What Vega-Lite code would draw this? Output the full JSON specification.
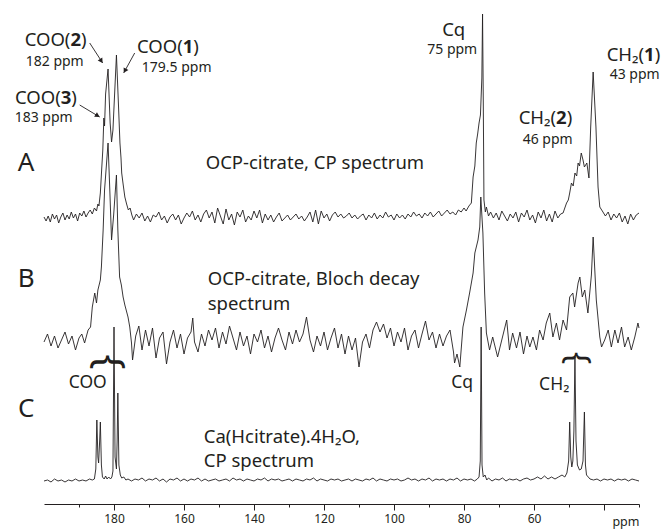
{
"$schema": "https://vega.github.io/schema/vega-lite/v6.json",
"width": 595, "height": 504, "autosize": "none",
"padding": {"left": 44, "top": 0, "right": 25, "bottom": 25},
"background": "#ffffff",
"config": {
  "view": {"stroke": null},
  "text": {"font": "Noto Sans", "color": "#231f20", "baseline": "middle"},
  "axis": {"domainColor": "#231f20", "tickColor": "#231f20", "labelColor": "#231f20", "titleColor": "#231f20", "labelFont": "Noto Sans", "titleFont": "Noto Sans"}
},
"datasets": {
  "A": [
    {"ppm":200,"i":0.5},{"ppm":199.4,"i":-1.5},{"ppm":198.8,"i":1},{"ppm":198.2,"i":-2},{"ppm":197.6,"i":2},{"ppm":197,"i":-0.5},{"ppm":196.4,"i":1.5},{"ppm":195.8,"i":-2.5},{"ppm":195.2,"i":0.5},{"ppm":194.6,"i":2.5},{"ppm":194,"i":-1},{"ppm":193.4,"i":1.5},{"ppm":192.8,"i":-0.5},{"ppm":192.2,"i":3},{"ppm":191.6,"i":0},{"ppm":191,"i":2},{"ppm":190.4,"i":-1.5},{"ppm":189.8,"i":2.5},{"ppm":189.2,"i":1},{"ppm":188.6,"i":3.5},{"ppm":188,"i":0.5},{"ppm":187.4,"i":2.5},{"ppm":186.8,"i":4},{"ppm":186.2,"i":2},{"ppm":185.6,"i":5},{"ppm":185,"i":3.5},
    {"ppm":184.6,"i":7},{"ppm":184.3,"i":6},{"ppm":183.9,"i":12.5},{"ppm":183.5,"i":25},{"ppm":183.2,"i":34},{"ppm":182.9,"i":50},{"ppm":182.7,"i":46},{"ppm":182.4,"i":62},{"ppm":181.7,"i":74.5},{"ppm":181.1,"i":47.5},{"ppm":180.7,"i":38},{"ppm":180.3,"i":44},{"ppm":180,"i":55.5},{"ppm":179.3,"i":81.5},{"ppm":178.7,"i":55.5},{"ppm":178.3,"i":37.5},{"ppm":178,"i":30},{"ppm":177.8,"i":22.5},{"ppm":177.4,"i":17},{"ppm":176.9,"i":10.5},{"ppm":176.4,"i":7},{"ppm":175.9,"i":4},{"ppm":175.4,"i":5},{"ppm":174.9,"i":1.5},
    {"ppm":174.4,"i":-1},{"ppm":173.6,"i":2},{"ppm":172.8,"i":0},{"ppm":172,"i":2.5},{"ppm":171.2,"i":-1.5},{"ppm":170.4,"i":1},{"ppm":169.6,"i":-2},{"ppm":168.8,"i":1.5},{"ppm":168,"i":0.5},{"ppm":167.2,"i":3},{"ppm":166.4,"i":-1},{"ppm":165.6,"i":1},{"ppm":164.8,"i":-2.5},{"ppm":164,"i":0.5},{"ppm":163.2,"i":2},{"ppm":162.4,"i":-1},{"ppm":161.6,"i":1.5},{"ppm":160.8,"i":-3},{"ppm":160,"i":0},{"ppm":159.2,"i":2.5},{"ppm":158.4,"i":0.5},{"ppm":157.6,"i":3.5},{"ppm":156.8,"i":-1},{"ppm":156,"i":1.5},{"ppm":155.2,"i":-2},{"ppm":154.4,"i":2},{"ppm":153.6,"i":4},{"ppm":152.8,"i":0},{"ppm":152,"i":3},{"ppm":151.2,"i":-2.5},{"ppm":150.4,"i":5},{"ppm":149.6,"i":1},{"ppm":148.8,"i":-3},{"ppm":148,"i":4.5},{"ppm":147.2,"i":-1},{"ppm":146.4,"i":2},{"ppm":145.6,"i":-3.5},{"ppm":144.8,"i":3},{"ppm":144,"i":0.5},{"ppm":143.2,"i":4},{"ppm":142.4,"i":-2},{"ppm":141.6,"i":1},{"ppm":140.8,"i":-1},{"ppm":140,"i":3.5},{"ppm":139.2,"i":0},{"ppm":138.4,"i":4},{"ppm":137.6,"i":-2.5},{"ppm":136.8,"i":2},{"ppm":136,"i":-1},{"ppm":135.2,"i":1.5},{"ppm":134.4,"i":-2},{"ppm":133.6,"i":0.5},{"ppm":132.8,"i":2.5},{"ppm":132,"i":-1.5},{"ppm":131.2,"i":0},{"ppm":130.4,"i":1.5},{"ppm":129.6,"i":-1},{"ppm":128.8,"i":0.5},{"ppm":128,"i":2},{"ppm":127.2,"i":-0.5},{"ppm":126.4,"i":1},{"ppm":125.6,"i":-1.5},{"ppm":124.8,"i":0.5},{"ppm":124,"i":3},{"ppm":123.2,"i":-2},{"ppm":122.4,"i":4},{"ppm":121.6,"i":-3},{"ppm":120.8,"i":3.5},{"ppm":120,"i":0},{"ppm":119.2,"i":2},{"ppm":118.4,"i":-1.5},{"ppm":117.6,"i":1.5},{"ppm":116.8,"i":3},{"ppm":116,"i":0.5},{"ppm":115.2,"i":2},{"ppm":114.4,"i":0},{"ppm":113.6,"i":1},{"ppm":112.8,"i":2.5},{"ppm":112,"i":0},{"ppm":111.2,"i":1.5},{"ppm":110.4,"i":-0.5},{"ppm":109.6,"i":1},{"ppm":108.8,"i":2},{"ppm":108,"i":-1},{"ppm":107.2,"i":1.5},{"ppm":106.4,"i":0},{"ppm":105.6,"i":2.5},{"ppm":104.8,"i":-0.5},{"ppm":104,"i":1.5},{"ppm":103.2,"i":0},{"ppm":102.4,"i":3},{"ppm":101.6,"i":0.5},{"ppm":100.8,"i":1.5},{"ppm":100,"i":-1},{"ppm":99.2,"i":2},{"ppm":98.4,"i":0},{"ppm":97.6,"i":1.5},{"ppm":96.8,"i":-0.5},{"ppm":96,"i":2},{"ppm":95.2,"i":0.5},{"ppm":94.4,"i":3},{"ppm":93.6,"i":1},{"ppm":92.8,"i":2},{"ppm":92,"i":0},{"ppm":91.2,"i":2.5},{"ppm":90.4,"i":1},{"ppm":89.6,"i":3},{"ppm":88.8,"i":0.5},{"ppm":88,"i":2},{"ppm":87.2,"i":3.5},{"ppm":86.4,"i":1},{"ppm":85.6,"i":2.5},{"ppm":84.8,"i":4},{"ppm":84,"i":2},{"ppm":83.2,"i":3},{"ppm":82.4,"i":1.5},{"ppm":81.6,"i":4},{"ppm":80.8,"i":3},{"ppm":80,"i":5},{"ppm":79.4,"i":3.5},{"ppm":78.6,"i":6},
    {"ppm":77.9,"i":7.5},{"ppm":77.4,"i":20.5},{"ppm":76.9,"i":26},{"ppm":76.5,"i":37.5},{"ppm":76.1,"i":42},{"ppm":75.7,"i":47.5},{"ppm":75.3,"i":51.5},{"ppm":74.9,"i":70},{"ppm":74.7,"i":102},{"ppm":74.5,"i":60},{"ppm":74.3,"i":9},{"ppm":73.9,"i":3},{"ppm":73.6,"i":5.5},{"ppm":73,"i":1},
    {"ppm":72.4,"i":3},{"ppm":71.6,"i":0},{"ppm":70.8,"i":2.5},{"ppm":70,"i":-1},{"ppm":69.2,"i":3.5},{"ppm":68.4,"i":1},{"ppm":67.6,"i":-1.5},{"ppm":66.8,"i":2},{"ppm":66,"i":0},{"ppm":65.2,"i":3},{"ppm":64.4,"i":-2},{"ppm":63.6,"i":2.5},{"ppm":62.8,"i":0.5},{"ppm":62,"i":4},{"ppm":61.2,"i":-1},{"ppm":60.4,"i":1.5},{"ppm":59.6,"i":-2.5},{"ppm":58.8,"i":3},{"ppm":58,"i":0},{"ppm":57.2,"i":4},{"ppm":56.4,"i":-1.5},{"ppm":55.6,"i":2},{"ppm":54.8,"i":-2},{"ppm":54,"i":3.5},{"ppm":53.2,"i":0},{"ppm":52.4,"i":2},
    {"ppm":51.7,"i":2.5},{"ppm":51.2,"i":5},{"ppm":50.7,"i":7.5},{"ppm":50.2,"i":9},{"ppm":49.8,"i":12.5},{"ppm":49.3,"i":17.5},{"ppm":48.8,"i":16},{"ppm":48.3,"i":22.5},{"ppm":47.8,"i":21},{"ppm":47.4,"i":27.5},{"ppm":47,"i":26},{"ppm":46.5,"i":32.5},{"ppm":46,"i":29},{"ppm":45.6,"i":25.5},{"ppm":44.9,"i":27.5},{"ppm":44.3,"i":20},{"ppm":43.8,"i":45.5},{"ppm":43.1,"i":73},{"ppm":42.3,"i":45.5},{"ppm":41.7,"i":15.5},{"ppm":41.2,"i":5.5},{"ppm":40.3,"i":3},
    {"ppm":39.6,"i":1},{"ppm":38.8,"i":3},{"ppm":38,"i":-1},{"ppm":37.2,"i":2},{"ppm":36.4,"i":0},{"ppm":35.6,"i":2.5},{"ppm":34.8,"i":-2},{"ppm":34,"i":1},{"ppm":33.2,"i":-3},{"ppm":32.4,"i":2},{"ppm":31.6,"i":-1},{"ppm":30.8,"i":1.5},{"ppm":30,"i":2.5}
  ],
  "B": [
    {"ppm":200,"i":0},{"ppm":199,"i":4},{"ppm":198,"i":-2},{"ppm":197,"i":3},{"ppm":196,"i":-3},{"ppm":195,"i":1},{"ppm":194,"i":5},{"ppm":193,"i":-1},{"ppm":192,"i":3},{"ppm":191,"i":-4},{"ppm":190,"i":2},{"ppm":189.2,"i":4},{"ppm":188.4,"i":-0.5},{"ppm":187.4,"i":6},{"ppm":186.7,"i":7.5},{"ppm":186.2,"i":17.5},{"ppm":185.5,"i":24.5},{"ppm":185,"i":19.5},{"ppm":184.6,"i":26},{"ppm":183.9,"i":31},{"ppm":183.6,"i":37.5},{"ppm":183.1,"i":56},{"ppm":182.7,"i":76},{"ppm":181.7,"i":99.5},{"ppm":181.2,"i":76},{"ppm":180.7,"i":51},{"ppm":180.1,"i":63.5},{"ppm":179.3,"i":83.5},{"ppm":178.9,"i":56},{"ppm":178.4,"i":32.5},{"ppm":177.9,"i":28.5},{"ppm":177.4,"i":22.5},{"ppm":176.9,"i":18.5},{"ppm":176,"i":12.5},{"ppm":175.5,"i":7.5},{"ppm":175,"i":-0.5},{"ppm":174.7,"i":-9},
    {"ppm":173.8,"i":3},{"ppm":172.9,"i":8},{"ppm":172,"i":-4},{"ppm":171,"i":6},{"ppm":170,"i":-2},{"ppm":169,"i":7},{"ppm":168,"i":-8},{"ppm":167,"i":2},{"ppm":166,"i":5},{"ppm":165,"i":-11},{"ppm":164,"i":0},{"ppm":163,"i":6},{"ppm":162,"i":-3},{"ppm":161,"i":4},{"ppm":160,"i":-6},{"ppm":159,"i":2},{"ppm":158,"i":5},{"ppm":157.5,"i":12},{"ppm":157,"i":0},{"ppm":156,"i":-5},{"ppm":155,"i":4},{"ppm":154,"i":-2},{"ppm":153,"i":6},{"ppm":152,"i":1},{"ppm":151,"i":7},{"ppm":150,"i":-3},{"ppm":149,"i":5},{"ppm":148,"i":-1},{"ppm":147,"i":8},{"ppm":146,"i":2},{"ppm":145,"i":-4},{"ppm":144,"i":5},{"ppm":143,"i":-2},{"ppm":142,"i":3},{"ppm":141,"i":-6},{"ppm":140,"i":4},{"ppm":139,"i":0},{"ppm":138,"i":6},{"ppm":137,"i":-3},{"ppm":136,"i":3},{"ppm":135,"i":-5},{"ppm":134,"i":2},{"ppm":133,"i":7},{"ppm":132,"i":1},{"ppm":131,"i":-4},{"ppm":130,"i":5},{"ppm":129,"i":-1},{"ppm":128,"i":6},{"ppm":127,"i":0},{"ppm":126,"i":4},{"ppm":125,"i":12.5},{"ppm":124,"i":1},{"ppm":123,"i":-5},{"ppm":122,"i":3},{"ppm":121,"i":-2},{"ppm":120,"i":5},{"ppm":119,"i":-4},{"ppm":118,"i":2},{"ppm":117,"i":7},{"ppm":116,"i":-3},{"ppm":115,"i":4},{"ppm":114,"i":-6},{"ppm":113,"i":3},{"ppm":112,"i":-4},{"ppm":111,"i":2},{"ppm":110,"i":-12.5},{"ppm":109,"i":0},{"ppm":108,"i":4},{"ppm":107,"i":-3},{"ppm":106,"i":6},{"ppm":105,"i":10},{"ppm":104,"i":5},{"ppm":103,"i":9},{"ppm":102,"i":2},{"ppm":101,"i":7},{"ppm":100,"i":-2},{"ppm":99,"i":5},{"ppm":98,"i":0},{"ppm":97,"i":7},{"ppm":96,"i":-4},{"ppm":95,"i":3},{"ppm":94,"i":6},{"ppm":93,"i":-3},{"ppm":92,"i":4},{"ppm":91,"i":10.5},{"ppm":90,"i":1},{"ppm":89,"i":5},{"ppm":88,"i":-3},{"ppm":87,"i":4},{"ppm":86,"i":-2},{"ppm":85,"i":3},{"ppm":84,"i":6},{"ppm":83,"i":-5},{"ppm":82.7,"i":-10.5},{"ppm":82,"i":-6},{"ppm":81.2,"i":-12.5},
    {"ppm":80.3,"i":7.5},{"ppm":79.3,"i":16},{"ppm":78.4,"i":24.5},{"ppm":77.4,"i":34.5},{"ppm":76.9,"i":44.5},{"ppm":76,"i":51},{"ppm":75.5,"i":57.5},{"ppm":75.2,"i":72.5},{"ppm":74.6,"i":54.5},{"ppm":74.1,"i":24.5},{"ppm":73.6,"i":4.5},
    {"ppm":72.7,"i":-4},{"ppm":71.8,"i":2.5},{"ppm":70.4,"i":-7.5},{"ppm":69,"i":2.5},{"ppm":67.8,"i":11},{"ppm":67,"i":-4},{"ppm":66.1,"i":4.5},{"ppm":65,"i":-3},{"ppm":64,"i":5},{"ppm":63,"i":-6},{"ppm":62,"i":3},{"ppm":61.2,"i":-2.5},{"ppm":60.3,"i":2.5},{"ppm":59.3,"i":-4},{"ppm":58.4,"i":6},{"ppm":57.4,"i":1},{"ppm":56.5,"i":9.5},{"ppm":55.5,"i":14.5},{"ppm":54.6,"i":2.5},{"ppm":53.6,"i":9.5},{"ppm":52.7,"i":1},{"ppm":51.7,"i":11},{"ppm":50.7,"i":6},{"ppm":49.8,"i":22.5},{"ppm":48.9,"i":24.5},{"ppm":48.4,"i":17.5},{"ppm":47.4,"i":29.5},{"ppm":46.9,"i":32.5},{"ppm":46.2,"i":22.5},{"ppm":45.5,"i":26},{"ppm":44.6,"i":14.5},{"ppm":43.6,"i":33.5},{"ppm":43.1,"i":52.5},{"ppm":42.2,"i":21},{"ppm":41.2,"i":2.5},{"ppm":40.7,"i":-2.5},{"ppm":39.8,"i":1},{"ppm":38.8,"i":6},{"ppm":37.9,"i":-2.5},{"ppm":36.9,"i":6},{"ppm":36,"i":-0.5},{"ppm":35,"i":7.5},{"ppm":34.1,"i":-2.5},{"ppm":33.1,"i":2.5},{"ppm":32.2,"i":-4},{"ppm":31.2,"i":2.5},{"ppm":30.3,"i":9.5},{"ppm":30,"i":7}
  ],
  "C": [
    {"ppm":200,"i":0},{"ppm":199,"i":0.5},{"ppm":198,"i":-0.5},{"ppm":197,"i":1},{"ppm":196,"i":0},{"ppm":195,"i":0.5},{"ppm":194,"i":-0.5},{"ppm":193,"i":0.5},{"ppm":192,"i":0},{"ppm":191,"i":1},{"ppm":190,"i":0},{"ppm":189,"i":0.5},{"ppm":188,"i":0},{"ppm":187,"i":1},{"ppm":186.2,"i":0.5},{"ppm":185.6,"i":1},{"ppm":185.2,"i":6},{"ppm":184.9,"i":30.5},{"ppm":184.6,"i":12},{"ppm":184.4,"i":9},{"ppm":184.1,"i":20},{"ppm":183.9,"i":29.5},{"ppm":183.6,"i":8},{"ppm":183.3,"i":2},{"ppm":182.8,"i":1},{"ppm":182.4,"i":2.5},{"ppm":182,"i":1},{"ppm":181.5,"i":2},{"ppm":181,"i":1},{"ppm":180.6,"i":2},{"ppm":180.3,"i":5},{"ppm":180,"i":77},{"ppm":179.7,"i":12},{"ppm":179.3,"i":6},{"ppm":179.1,"i":20},{"ppm":178.9,"i":44},{"ppm":178.6,"i":8},{"ppm":178.2,"i":3},{"ppm":177.8,"i":1.5},{"ppm":177.2,"i":2},{"ppm":176.6,"i":0.5},
    {"ppm":176,"i":1},{"ppm":175,"i":0},{"ppm":174,"i":1},{"ppm":173,"i":0.5},{"ppm":172,"i":1.5},{"ppm":171,"i":0},{"ppm":170,"i":1},{"ppm":169,"i":0.5},{"ppm":168,"i":1.5},{"ppm":167,"i":0},{"ppm":166,"i":1},{"ppm":165,"i":-0.5},{"ppm":164,"i":1},{"ppm":163,"i":0.5},{"ppm":162,"i":1.5},{"ppm":161,"i":0},{"ppm":160,"i":1},{"ppm":159,"i":0},{"ppm":158,"i":1},{"ppm":157,"i":0.5},{"ppm":156,"i":1.5},{"ppm":155,"i":0},{"ppm":154,"i":1},{"ppm":153,"i":0},{"ppm":152,"i":0.5},{"ppm":151,"i":1},{"ppm":150,"i":0},{"ppm":149,"i":0.5},{"ppm":148,"i":1},{"ppm":147,"i":0},{"ppm":146,"i":1.5},{"ppm":145,"i":0.5},{"ppm":144,"i":1},{"ppm":143,"i":0},{"ppm":142,"i":1},{"ppm":141,"i":0.5},{"ppm":140,"i":0},{"ppm":139,"i":1},{"ppm":138,"i":0.5},{"ppm":137,"i":1.5},{"ppm":136,"i":0},{"ppm":135,"i":1},{"ppm":134,"i":0.5},{"ppm":133,"i":1},{"ppm":132,"i":0},{"ppm":131,"i":0.5},{"ppm":130,"i":1},{"ppm":129,"i":0},{"ppm":128,"i":1},{"ppm":127,"i":0.5},{"ppm":126,"i":0},{"ppm":125,"i":1},{"ppm":124,"i":0.5},{"ppm":123,"i":1.5},{"ppm":122,"i":0},{"ppm":121,"i":1},{"ppm":120,"i":0.5},{"ppm":119,"i":0},{"ppm":118,"i":1},{"ppm":117,"i":0.5},{"ppm":116,"i":1},{"ppm":115,"i":0},{"ppm":114,"i":0.5},{"ppm":113,"i":1},{"ppm":112,"i":0},{"ppm":111,"i":1},{"ppm":110,"i":0.5},{"ppm":109,"i":0},{"ppm":108,"i":1},{"ppm":107,"i":0.5},{"ppm":106,"i":1.5},{"ppm":105,"i":0},{"ppm":104,"i":1},{"ppm":103,"i":0.5},{"ppm":102,"i":0},{"ppm":101,"i":1},{"ppm":100,"i":0.5},{"ppm":99,"i":1},{"ppm":98,"i":0},{"ppm":97,"i":0.5},{"ppm":96,"i":1.5},{"ppm":95,"i":0.5},{"ppm":94,"i":1},{"ppm":93,"i":0},{"ppm":92,"i":1},{"ppm":91,"i":0.5},{"ppm":90,"i":1.5},{"ppm":89,"i":0},{"ppm":88,"i":1},{"ppm":87,"i":0.5},{"ppm":86,"i":1},{"ppm":85,"i":0},{"ppm":84,"i":1},{"ppm":83,"i":0.5},{"ppm":82,"i":1.5},{"ppm":81,"i":0},{"ppm":80,"i":1},{"ppm":79,"i":0.5},{"ppm":78,"i":1},{"ppm":77,"i":0},
    {"ppm":76.2,"i":1},{"ppm":75.7,"i":2},{"ppm":75.35,"i":10},{"ppm":75.1,"i":77},{"ppm":74.85,"i":8},{"ppm":74.5,"i":2},{"ppm":74,"i":3},{"ppm":73.5,"i":0.5},{"ppm":73,"i":1.5},{"ppm":72,"i":0},{"ppm":71,"i":1},{"ppm":70,"i":0.5},{"ppm":69,"i":1.5},{"ppm":68,"i":0},{"ppm":67,"i":1},{"ppm":66,"i":0.5},{"ppm":65,"i":1},{"ppm":64,"i":0},{"ppm":63,"i":1},{"ppm":62,"i":1.5},{"ppm":61,"i":0.5},{"ppm":60,"i":1},{"ppm":59,"i":2},{"ppm":58,"i":1},{"ppm":57,"i":2.5},{"ppm":56,"i":1},{"ppm":55,"i":2},{"ppm":54,"i":1},{"ppm":53,"i":2},{"ppm":52,"i":3},{"ppm":51.2,"i":2},{"ppm":50.6,"i":4},{"ppm":50.1,"i":10},{"ppm":49.8,"i":29.5},{"ppm":49.5,"i":12},{"ppm":49.2,"i":7},{"ppm":48.9,"i":10},{"ppm":48.6,"i":25},{"ppm":48.3,"i":62},{"ppm":48,"i":20},{"ppm":47.6,"i":8},{"ppm":47,"i":5.5},{"ppm":46.5,"i":6},{"ppm":46,"i":10},{"ppm":45.6,"i":34.5},{"ppm":45.3,"i":8},{"ppm":45,"i":3},{"ppm":44.5,"i":2},{"ppm":44,"i":1},{"ppm":43,"i":0.5},{"ppm":42,"i":1},{"ppm":41,"i":0},{"ppm":40,"i":1},{"ppm":39,"i":0.5},{"ppm":38,"i":1},{"ppm":37,"i":0},{"ppm":36,"i":1},{"ppm":35,"i":0.5},{"ppm":34,"i":1},{"ppm":33,"i":0},{"ppm":32,"i":1},{"ppm":31,"i":0.5},{"ppm":30,"i":0}
  ],
  "peakLabels": [
    {"ppm":190.94,"i":89,"pre":"COO(","num":"2"},
    {"ppm":158.86,"i":85.5,"pre":"COO(","num":"1"},
    {"ppm":193.71,"i":60,"pre":"COO(","num":"3"},
    {"ppm":27.03,"i":81.5,"pre":"CH₂(","num":"1"},
    {"ppm":52.17,"i":50,"pre":"CH₂(","num":"2"}
  ],
  "shiftLabels": [
    {"ppm":196.94,"i":78,"t":"182 ppm"},
    {"ppm":162.09,"i":75,"t":"179.5 ppm"},
    {"ppm":200.09,"i":50,"t":"183 ppm"},
    {"ppm":83.37,"i":84,"t":"75 ppm"},
    {"ppm":31.23,"i":71.5,"t":"43 ppm"},
    {"ppm":56.09,"i":39,"t":"46 ppm"}
  ],
  "arrows": [
    {"ppm":186.94,"i":87.5,"ppm2":183.23,"i2":77.5},
    {"ppm":174.09,"i":82.5,"ppm2":177.23,"i2":72.5},
    {"ppm":189.8,"i":56.5,"ppm2":184.09,"i2":50.5}
  ]
},
"encoding": {
  "x": {
    "field": "ppm", "type": "quantitative",
    "scale": {"domain": [30, 200], "reverse": true, "nice": false, "zero": false},
    "axis": {
      "values": [190,180,170,160,150,140,130,120,110,100,90,80,70,60,50,40,30],
      "labelExpr": "datum.value >= 60 && datum.value <= 180 && datum.value % 20 === 0 ? datum.label : ''",
      "tickSize": {"condition": {"test": "datum.value % 20 === 0", "value": 6}, "value": 3},
      "labelFontSize": 12, "labelPadding": 3, "labelFlush": false, "labelOverlap": false, "grid": false,
      "domainWidth": 1, "tickWidth": 1,
      "title": "ppm", "titleFontSize": 12.5, "titleFontWeight": "normal",
      "titleX": 595, "titleAlign": "right", "titleBaseline": "middle", "titleY": 17
    }
  }
},
"layer": [
  {
    "encoding": {"y": {"field": "i", "type": "quantitative", "scale": {"domain": [-143, 109], "nice": false, "zero": false}, "axis": null}},
    "layer": [
      {"data": {"name": "A"}, "mark": {"type": "line", "color": "#231f20", "strokeWidth": 0.9}},
      {"data": {"values": [{"ppm": 205.09, "i": 27.5, "t": "A"}]}, "mark": {"type": "text", "fontSize": 26}, "encoding": {"text": {"field": "t"}}},
      {"data": {"values": [{"ppm": 153.8, "i": 27.5, "t": "OCP-citrate, CP spectrum"}]}, "mark": {"type": "text", "fontSize": 18.5, "align": "left"}, "encoding": {"text": {"field": "t"}}},
      {"data": {"name": "peakLabels"}, "mark": {"type": "text", "fontSize": 18.5, "align": "right", "dx": -5.3}, "encoding": {"text": {"field": "pre"}}},
      {"data": {"name": "peakLabels"}, "mark": {"type": "text", "fontSize": 18.5, "fontWeight": "bold", "align": "center"}, "encoding": {"text": {"field": "num"}}},
      {"data": {"name": "peakLabels"}, "mark": {"type": "text", "fontSize": 18.5, "align": "left", "dx": 5.3}, "encoding": {"text": {"value": ")"}}},
      {"data": {"name": "shiftLabels"}, "mark": {"type": "text", "fontSize": 14}, "encoding": {"text": {"field": "t"}}},
      {"data": {"values": [{"ppm": 82.94, "i": 94, "t": "Cq"}]}, "mark": {"type": "text", "fontSize": 18.5}, "encoding": {"text": {"field": "t"}}},
      {"data": {"name": "arrows"}, "mark": {"type": "rule", "color": "#231f20", "strokeWidth": 0.9}, "encoding": {"x2": {"field": "ppm2"}, "y2": {"field": "i2"}}},
      {"data": {"values": [{"ppm": 183.63, "i": 78.55}]}, "mark": {"type": "point", "shape": "triangle-up", "filled": true, "size": 30, "angle": 147, "color": "#231f20", "opacity": 1}},
      {"data": {"values": [{"ppm": 176.89, "i": 73.6}]}, "mark": {"type": "point", "shape": "triangle-up", "filled": true, "size": 30, "angle": 209, "color": "#231f20", "opacity": 1}},
      {"data": {"values": [{"ppm": 184.69, "i": 51.15}]}, "mark": {"type": "point", "shape": "triangle-up", "filled": true, "size": 30, "angle": 121, "color": "#231f20", "opacity": 1}}
    ]
  },
  {
    "encoding": {"y": {"field": "i", "type": "quantitative", "scale": {"domain": [-81, 171], "nice": false, "zero": false}, "axis": null}},
    "layer": [
      {"data": {"name": "B"}, "mark": {"type": "line", "color": "#231f20", "strokeWidth": 0.9}},
      {"data": {"values": [{"ppm": 205.09, "i": 31.5, "t": "B"}]}, "mark": {"type": "text", "fontSize": 26}, "encoding": {"text": {"field": "t"}}},
      {"data": {"values": [{"ppm": 153.23, "i": 31.5, "t": "OCP-citrate, Bloch decay"}, {"ppm": 153.23, "i": 19, "t": "spectrum"}]}, "mark": {"type": "text", "fontSize": 18.5, "align": "left"}, "encoding": {"text": {"field": "t"}}}
    ]
  },
  {
    "encoding": {"y": {"field": "i", "type": "quantitative", "scale": {"domain": [-11.5, 240.5], "nice": false, "zero": false}, "axis": null}},
    "layer": [
      {"data": {"name": "C"}, "mark": {"type": "line", "color": "#231f20", "strokeWidth": 0.9}},
      {"data": {"values": [{"ppm": 205.09, "i": 36, "t": "C"}]}, "mark": {"type": "text", "fontSize": 26}, "encoding": {"text": {"field": "t"}}},
      {"data": {"values": [{"ppm": 154.37, "i": 22, "t": "Ca(Hcitrate).4H₂O,"}, {"ppm": 154.37, "i": 10, "t": "CP spectrum"}]}, "mark": {"type": "text", "fontSize": 18.5, "align": "left"}, "encoding": {"text": {"field": "t"}}},
      {"data": {"values": [{"ppm": 187.51, "i": 49, "t": "COO"}, {"ppm": 80.51, "i": 49, "t": "Cq"}, {"ppm": 54.23, "i": 48, "t": "CH₂"}]}, "mark": {"type": "text", "fontSize": 17.5}, "encoding": {"text": {"field": "t"}}},
      {"data": {"values": [{"ppm": 181.94, "i": 59.5, "t": "}"}]}, "mark": {"type": "text", "fontSize": 40, "angle": 270}, "encoding": {"text": {"field": "t"}}},
      {"data": {"values": [{"ppm": 48.09, "i": 61.5, "t": "}"}]}, "mark": {"type": "text", "fontSize": 33, "angle": 270}, "encoding": {"text": {"field": "t"}}}
    ]
  }
],
"resolve": {"scale": {"y": "independent"}}
}
